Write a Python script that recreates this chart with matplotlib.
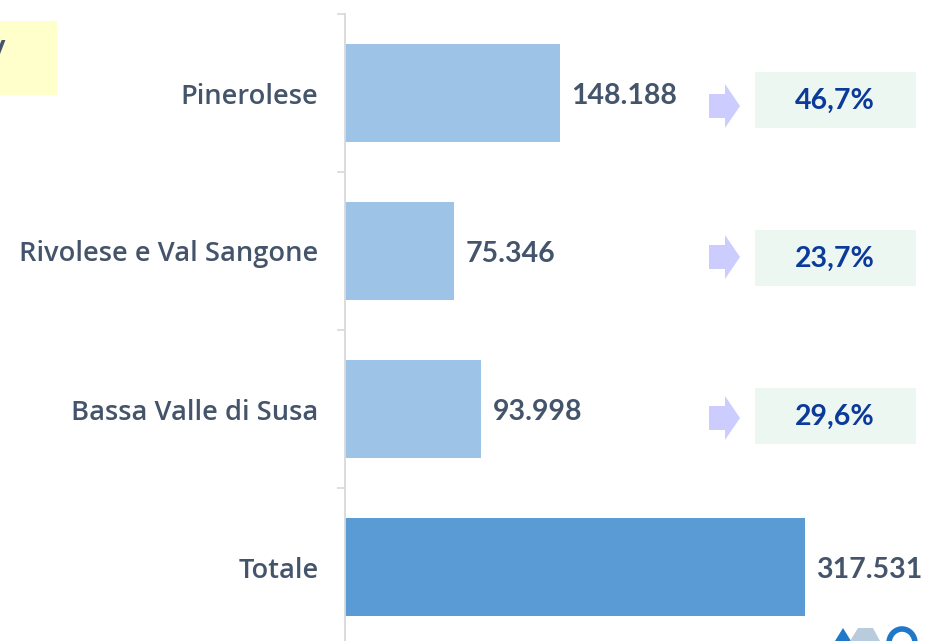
import matplotlib
matplotlib.use("Agg")
import matplotlib.pyplot as plt
from matplotlib.patches import Rectangle, Polygon, Arc

# ---- data ----
categories = ["Pinerolese", "Rivolese e Val Sangone", "Bassa Valle di Susa", "Totale"]
values = [148188, 75346, 93998, 317531]
value_labels = ["148.188", "75.346", "93.998", "317.531"]
shares = ["46,7%", "23,7%", "29,6%"]

W, H = 925, 641
FONT = ["Lato", "DejaVu Sans"]
LABEL_FONT = ["Open Sans", "DejaVu Sans"]
TEXT_C = "#44546A"
LIGHT = "#9DC3E6"
DARK = "#5B9BD5"

fig = plt.figure(figsize=(W / 100, H / 100), dpi=100)
fig.patch.set_facecolor("white")

# main axes (pixel layout: left 345, top 14, row band 158 px)
ax_left, ax_top, band = 345, 14, 158
ax_bottom = ax_top + band * len(categories)
ax_right = 925
ax = fig.add_axes([ax_left / W, (H - ax_bottom) / H,
                   (ax_right - ax_left) / W, (ax_bottom - ax_top) / H])
ax.set_facecolor("none")

ypos = list(range(len(categories)))
colors = [LIGHT] * (len(categories) - 1) + [DARK]
ax.barh(ypos, values, height=0.615, color=colors, zorder=2)
ax.set_ylim(len(categories) - 0.5, -0.5)
ax.set_xlim(0, 400000)

for y, v, lab in zip(ypos, values, value_labels):
    ax.annotate(lab, (v, y), xytext=(8.0, -2), textcoords="offset points",
                ha="left", va="center", fontsize=20.5, fontweight="bold",
                color=TEXT_C, family=FONT, annotation_clip=False)

ax.set_yticks(ypos)
ax.set_yticklabels(categories, fontsize=19.6, fontweight="semibold", color=TEXT_C,
                   family=LABEL_FONT)
ax.tick_params(axis="y", which="major", length=0, pad=19)
ax.set_yticks([i - 0.5 for i in range(len(categories) + 1)], minor=True)
ax.tick_params(axis="y", which="minor", length=6, width=1.2, color="#D9D9D9")
ax.set_xticks([])
for s in ["top", "right", "bottom"]:
    ax.spines[s].set_visible(False)
ax.spines["left"].set_color("#D9D9D9")
ax.spines["left"].set_linewidth(1.3)

# overlay in pixel coordinates for decorations
ov = fig.add_axes([0, 0, 1, 1])
ov.set_xlim(0, W)
ov.set_ylim(H, 0)
ov.axis("off")
ov.set_facecolor("none")

# yellow note box at top left (cut off)
ov.add_patch(Rectangle((0, 21), 57, 74, facecolor="#FFFFCC", edgecolor="none"))
ov.text(4, 53, "V", ha="right", va="center", fontsize=20, fontweight="bold",
        color=TEXT_C, family=FONT)

# share boxes and arrows
arrow_dy = [13, 6, 9]
for i, sh in enumerate(shares):
    cy = ax_top + band * (i + 0.5) + 7
    ov.add_patch(Rectangle((755, cy - 28), 161, 56, facecolor="#EDF7F1", edgecolor="none"))
    ov.text(835, cy + 1, sh, ha="center", va="center", fontsize=20.5, fontweight="bold",
            color="#0B3A9A", family=FONT)
    ay = ax_top + band * (i + 0.5) + arrow_dy[i]
    ax0 = 709
    pts = [(ax0, ay - 12), (ax0 + 16, ay - 12), (ax0 + 16, ay - 22), (ax0 + 31, ay),
           (ax0 + 16, ay + 22), (ax0 + 16, ay + 12), (ax0, ay + 12)]
    ov.add_patch(Polygon(pts, closed=True, facecolor="#CCCCFF", edgecolor="none"))

# partial logo at bottom right
ov.add_patch(Polygon([(835, 641), (843, 628), (851, 641)], closed=True,
                     facecolor="#1F78C8", edgecolor="none"))
ov.add_patch(Polygon([(850, 641), (858, 628), (873, 628), (880, 641)], closed=True,
                     facecolor="#B8CCDD", edgecolor="none"))
ov.add_patch(Arc((902, 643), 26, 28, theta1=180, theta2=360, color="#1F78C8", lw=4))

fig.savefig("out.png", dpi=100)
